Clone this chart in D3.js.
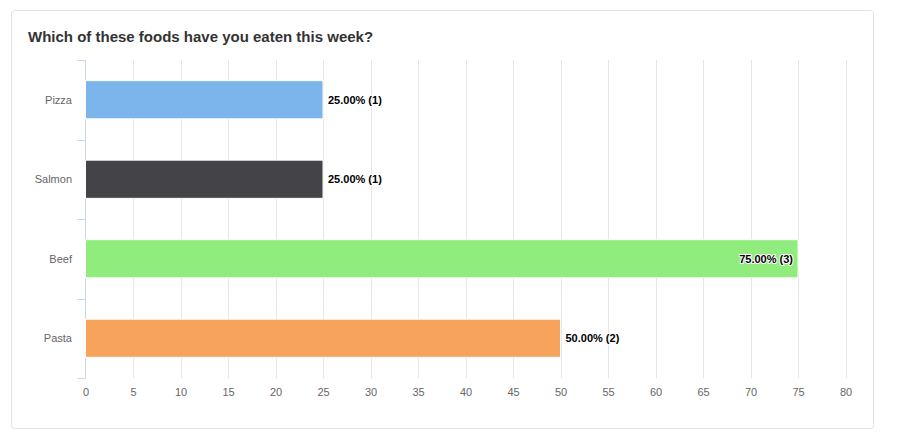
<!DOCTYPE html>
<html>
<head>
<meta charset="utf-8">
<script src="https://cdn.jsdelivr.net/npm/d3@7"></script>
<style>
    html, body { margin: 0; padding: 0; background: #fff; }
    body { width: 900px; height: 437px; overflow: hidden; }
    svg { display: block; font-family: "Liberation Sans", Arial, sans-serif; }
</style>
</head>
<body>
<div id="chart"></div>
<script>
(function () {
    // Data
    var categories = ['Pizza', 'Salmon', 'Beef', 'Pasta'];
    var percents = [25, 25, 75, 50];
    var counts = [1, 1, 3, 2];
    var colors = ['#7cb5ec', '#434348', '#90ed7d', '#f7a35c'];
    var xTicks = [0, 5, 10, 15, 20, 25, 30, 35, 40, 45, 50, 55, 60, 65, 70, 75, 80];

    var W = 900, H = 437;
    var PLOT_L = 85.5, PLOT_R = 845.5, PLOT_T = 60, PLOT_B = 378;

    var svg = d3.select('#chart').append('svg')
        .attr('width', W).attr('height', H);

    // Card
    svg.append('rect')
        .attr('x', 11.5).attr('y', 10.5)
        .attr('width', 862).attr('height', 418)
        .attr('rx', 3)
        .attr('fill', '#fff')
        .attr('stroke', '#e3e3e3');

    svg.append('text')
        .attr('x', 28).attr('y', 42)
        .attr('font-size', 15).attr('font-weight', 'bold')
        .attr('fill', '#333')
        .text('Which of these foods have you eaten this week?');

    var x = d3.scaleLinear().domain([0, 80]).range([PLOT_L, PLOT_R]);
    var y = d3.scaleBand().domain(categories).range([PLOT_T, PLOT_B]).paddingInner(0.52).paddingOuter(0.26);
    var band = d3.scaleBand().domain(categories).range([PLOT_T, PLOT_B]);

    // Vertical grid lines
    svg.append('g').selectAll('line')
        .data(xTicks.slice(1))
        .join('line')
        .attr('x1', function (d) { return Math.round(x(d)) + 0.5; })
        .attr('x2', function (d) { return Math.round(x(d)) + 0.5; })
        .attr('y1', PLOT_T).attr('y2', PLOT_B)
        .attr('stroke', '#e6e6e6');

    // X axis labels
    var xAxis = d3.axisBottom(x).tickValues(xTicks).tickSize(0).tickPadding(10);
    var gx = svg.append('g').attr('transform', 'translate(0,' + PLOT_B + ')').call(xAxis);
    gx.select('.domain').remove();
    gx.selectAll('text').attr('font-size', 11).attr('fill', '#666')
        .attr('font-family', '"Liberation Sans", Arial, sans-serif');

    // Y axis: line and boundary ticks
    var yg = svg.append('g');
    yg.append('line')
        .attr('x1', PLOT_L).attr('x2', PLOT_L)
        .attr('y1', PLOT_T).attr('y2', PLOT_B)
        .attr('stroke', '#ccd6eb');
    var bounds = categories.map(function (c) { return band(c); }).concat([PLOT_B]);
    yg.selectAll('line.tick')
        .data(bounds)
        .join('line')
        .attr('class', 'tick')
        .attr('x1', PLOT_L - 8).attr('x2', PLOT_L)
        .attr('y1', function (d) { return Math.round(d) + 0.5; })
        .attr('y2', function (d) { return Math.round(d) + 0.5; })
        .attr('stroke', '#ccd6eb');
    yg.selectAll('text')
        .data(categories)
        .join('text')
        .attr('x', 72)
        .attr('y', function (d) { return band(d) + band.bandwidth() / 2; })
        .attr('dy', '0.35em')
        .attr('text-anchor', 'end')
        .attr('font-size', 11).attr('fill', '#666')
        .text(function (d) { return d; });

    // Bars
    svg.append('g').selectAll('rect')
        .data(categories)
        .join('rect')
        .attr('x', x(0))
        .attr('y', function (d) { return y(d); })
        .attr('width', function (d, i) { return x(percents[i]) - x(0); })
        .attr('height', y.bandwidth())
        .attr('fill', function (d, i) { return colors[i]; })
        .attr('stroke', '#fff').attr('stroke-width', 1);

    // Data labels
    svg.append('g').selectAll('text')
        .data(categories)
        .join('text')
        .attr('x', function (d, i) {
            return percents[i] > 60 ? x(percents[i]) - 5 : x(percents[i]) + 5;
        })
        .attr('y', function (d) { return y(d) + y.bandwidth() / 2; })
        .attr('dy', '0.35em')
        .attr('text-anchor', function (d, i) { return percents[i] > 60 ? 'end' : 'start'; })
        .attr('font-size', 11).attr('font-weight', 'bold')
        .attr('fill', '#000')
        .attr('stroke', '#fff').attr('stroke-width', 2).attr('paint-order', 'stroke')
        .attr('stroke-linejoin', 'round')
        .text(function (d, i) { return percents[i].toFixed(2) + '% (' + counts[i] + ')'; });
}());
</script>
</body>
</html>
